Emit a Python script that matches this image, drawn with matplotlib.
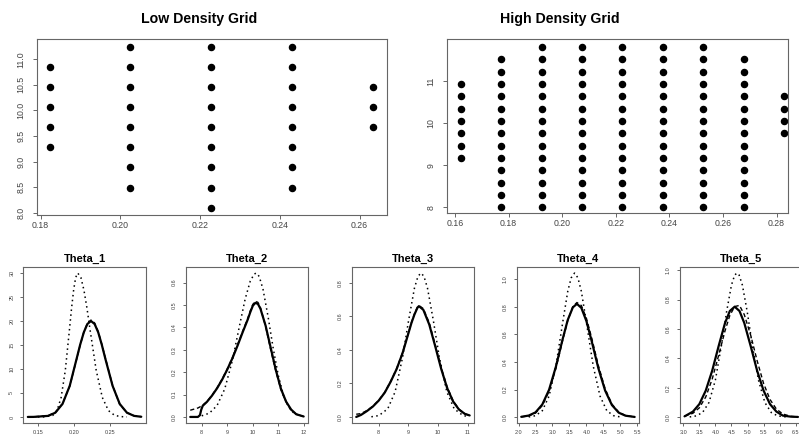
import numpy as np
import matplotlib
matplotlib.use('Agg')
import matplotlib.pyplot as plt
from matplotlib.ticker import FormatStrFormatter

plt.rcParams['font.family'] = ['Liberation Sans', 'DejaVu Sans']

# ---- grid points (top row) ----
low_cols_x = [0.1823, 0.2025, 0.2228, 0.2431, 0.2634]
low_cols_y = [
    [9.28, 9.67, 10.06, 10.45, 10.85],
    [8.49, 8.89, 9.28, 9.67, 10.06, 10.45, 10.85, 11.24],
    [8.10, 8.49, 8.89, 9.28, 9.67, 10.06, 10.45, 10.85, 11.24],
    [8.49, 8.89, 9.28, 9.67, 10.06, 10.45, 10.85, 11.24],
    [9.67, 10.06, 10.45],
]
low_xticks = [0.18, 0.20, 0.22, 0.24, 0.26]
low_yticks = [8.0, 8.5, 9.0, 9.5, 10.0, 10.5, 11.0]

high_levels = [8.000, 8.293, 8.586, 8.879, 9.172, 9.465, 9.758, 10.051,
               10.344, 10.637, 10.930, 11.223, 11.516, 11.809]
high_cols_x = [0.1621, 0.1772, 0.1923, 0.2074, 0.2225, 0.2376, 0.2527, 0.2678, 0.2829]
high_cols_y = [
    high_levels[4:11],
    high_levels[0:13],
    high_levels[0:14],
    high_levels[0:14],
    high_levels[0:14],
    high_levels[0:14],
    high_levels[0:14],
    high_levels[0:13],
    high_levels[6:10],
]
high_xticks = [0.16, 0.18, 0.20, 0.22, 0.24, 0.26, 0.28]
high_yticks = [8, 9, 10, 11]

# ---- density curves (bottom row) ----
t1_x = [0.136, 0.144, 0.164, 0.174, 0.184, 0.194, 0.2035, 0.2085, 0.2135, 0.2184,
        0.2234, 0.2284, 0.2334, 0.2383, 0.2433, 0.2533, 0.2632, 0.2732, 0.2831, 0.293]
t1_solid = [0.0, 0.01, 0.22, 0.88, 2.71, 6.49, 12.13, 15.10, 17.65, 19.38,
            20.0, 19.38, 17.65, 15.10, 12.13, 6.49, 2.71, 0.88, 0.22, 0.04]
t1_dashed = [0.0, 0.02, 0.26, 0.95, 2.8, 6.4, 12.0, 15.0, 17.7, 19.5,
             20.2, 19.6, 17.8, 15.2, 12.3, 6.6, 2.6, 0.9, 0.25, 0.05]
t1_dot_x = [0.150, 0.1591, 0.1706, 0.1764, 0.1821, 0.1879, 0.1936, 0.1965, 0.1994, 0.2022,
            0.2051, 0.2094, 0.2136, 0.2179, 0.2221, 0.2306, 0.2391, 0.2476, 0.2561, 0.2646, 0.2731]
t1_dotted = [0.0, 0.01, 0.33, 1.32, 4.06, 9.74, 18.20, 22.64, 26.48, 29.08,
             30.0, 29.08, 26.48, 22.64, 18.20, 9.74, 4.06, 1.32, 0.33, 0.07, 0.01]

t2_x = [7.55, 7.85, 7.93, 7.98, 8.04, 8.2, 8.4, 8.6, 8.8, 9.0, 9.2, 9.4, 9.6, 9.8,
        9.9, 10.0, 10.1, 10.2, 10.3, 10.5, 10.7, 10.9, 11.1, 11.3, 11.5, 11.7, 11.99]
t2_solid = [0.0, 0.0, 0.008, 0.032, 0.050, 0.067, 0.095, 0.128, 0.167, 0.212, 0.262, 0.318,
            0.378, 0.435, 0.468, 0.497, 0.510, 0.505, 0.483, 0.408, 0.309, 0.210, 0.126,
            0.069, 0.033, 0.012, 0.002]
t2_dashed = [0.030, 0.040, 0.045, 0.048, 0.053, 0.068, 0.097, 0.130, 0.170, 0.215, 0.265, 0.322,
             0.382, 0.440, 0.474, 0.503, 0.517, 0.512, 0.488, 0.405, 0.300, 0.205, 0.122,
             0.068, 0.030, 0.012, 0.002]
t2_dot_x = [8.0, 8.3, 8.6, 8.9, 9.2, 9.5, 9.7, 9.9, 10.05, 10.13,
            10.25, 10.4, 10.6, 10.8, 11.0, 11.2, 11.4, 11.6, 11.85]
t2_dotted = [0.005, 0.017, 0.051, 0.125, 0.252, 0.419, 0.527, 0.607, 0.638, 0.643,
             0.628, 0.570, 0.446, 0.305, 0.184, 0.096, 0.044, 0.018, 0.005]

t3_x = [7.24, 7.4, 7.6, 7.8, 8.0, 8.2, 8.4, 8.6, 8.8, 9.0, 9.1, 9.2, 9.3, 9.35,
        9.5, 9.7, 9.9, 10.1, 10.3, 10.5, 10.7, 10.9, 11.06]
t3_solid = [0.0, 0.012, 0.035, 0.062, 0.098, 0.145, 0.210, 0.285, 0.380, 0.500, 0.560, 0.610,
            0.650, 0.660, 0.638, 0.550, 0.421, 0.287, 0.173, 0.093, 0.044, 0.018, 0.009]
t3_dashed = [0.016, 0.020, 0.038, 0.064, 0.100, 0.147, 0.212, 0.288, 0.383, 0.502, 0.563, 0.614,
             0.654, 0.664, 0.645, 0.560, 0.430, 0.295, 0.180, 0.097, 0.046, 0.019, 0.009]
t3_dot_x = [7.75, 8.0, 8.3, 8.55, 8.8, 9.0, 9.2, 9.32, 9.42,
            9.52, 9.64, 9.84, 10.04, 10.29, 10.54, 10.84, 11.0]
t3_dotted = [0.001, 0.008, 0.048, 0.150, 0.354, 0.571, 0.767, 0.838, 0.857,
             0.838, 0.767, 0.571, 0.354, 0.150, 0.048, 0.008, 0.003]

t4_x = [2.08, 2.3, 2.5, 2.7, 2.9, 3.1, 3.3, 3.45, 3.6, 3.72,
        3.85, 4.0, 4.15, 4.35, 4.55, 4.75, 4.95, 5.15, 5.42]
t4_solid = [0.003, 0.012, 0.035, 0.092, 0.199, 0.365, 0.566, 0.704, 0.795, 0.820,
            0.791, 0.695, 0.555, 0.355, 0.193, 0.088, 0.033, 0.011, 0.002]
t4_dashed = [0.002, 0.010, 0.030, 0.085, 0.188, 0.352, 0.556, 0.700, 0.800, 0.830,
             0.808, 0.715, 0.578, 0.375, 0.206, 0.095, 0.037, 0.012, 0.002]
t4_dot_x = [2.3, 2.5, 2.7, 2.9, 3.1, 3.3, 3.45, 3.55, 3.65,
            3.75, 3.85, 4.0, 4.2, 4.4, 4.6, 4.8, 5.0]
t4_dotted = [0.002, 0.011, 0.047, 0.153, 0.370, 0.684, 0.911, 1.008, 1.043,
             1.008, 0.911, 0.684, 0.370, 0.153, 0.047, 0.011, 0.002]

t5_x = [3.04, 3.3, 3.5, 3.7, 3.9, 4.1, 4.3, 4.45, 4.6,
        4.75, 4.9, 5.1, 5.3, 5.5, 5.7, 5.9, 6.1, 6.35, 6.57]
t5_solid = [0.005, 0.037, 0.088, 0.180, 0.315, 0.482, 0.640, 0.722, 0.751,
            0.722, 0.640, 0.482, 0.315, 0.180, 0.088, 0.037, 0.010, 0.003, 0.001]
t5_dashed = [0.006, 0.026, 0.063, 0.137, 0.258, 0.419, 0.587, 0.692, 0.752,
             0.760, 0.697, 0.556, 0.383, 0.229, 0.120, 0.054, 0.021, 0.005, 0.001]
t5_dot_x = [3.2, 3.4, 3.6, 3.8, 4.0, 4.2, 4.35, 4.5, 4.6, 4.67,
            4.74, 4.84, 4.99, 5.14, 5.34, 5.54, 5.74, 5.94, 6.2]
t5_dotted = [0.001, 0.008, 0.031, 0.099, 0.252, 0.503, 0.718, 0.898, 0.966, 0.98,
             0.966, 0.898, 0.718, 0.503, 0.252, 0.099, 0.031, 0.008, 0.001]

panel_titles = ['Theta_1', 'Theta_2', 'Theta_3', 'Theta_4', 'Theta_5']
panel_xticks = [[0.15, 0.20, 0.25], [8, 9, 10, 11, 12], [8, 9, 10, 11],
                [2.0, 2.5, 3.0, 3.5, 4.0, 4.5, 5.0, 5.5],
                [3.0, 3.5, 4.0, 4.5, 5.0, 5.5, 6.0, 6.5]]
panel_yticks = [[0, 5, 10, 15, 20, 25, 30], [0.0, 0.1, 0.2, 0.3, 0.4, 0.5, 0.6],
                [0.0, 0.2, 0.4, 0.6, 0.8], [0.0, 0.2, 0.4, 0.6, 0.8, 1.0],
                [0.0, 0.2, 0.4, 0.6, 0.8, 1.0]]
panel_xfmt = ['%.2f', '%d', '%d', '%.1f', '%.1f']
panel_yfmt = ['%d', '%.1f', '%.1f', '%.1f', '%.1f']

FRAME = '#666666'
LABEL = '#444444'


def r_style(ax, size, ticklen, xpad, ypad):
    for sp in ax.spines.values():
        sp.set_color(FRAME)
        sp.set_linewidth(0.8)
    ax.tick_params(direction='out', length=ticklen, width=0.7, color=FRAME,
                   labelsize=size, labelcolor=LABEL)
    ax.tick_params(axis='x', pad=xpad)
    ax.tick_params(axis='y', pad=ypad, labelrotation=90)
    for lab in ax.get_yticklabels():
        lab.set_va('center')


W, H = 799.0, 438.0
fig = plt.figure(figsize=(7.99, 4.38), dpi=100)

# top left
ax = fig.add_axes([36.7 / W, 1 - 215 / H, 350 / W, 175.7 / H])
for cx, cy in zip(low_cols_x, low_cols_y):
    ax.plot([cx] * len(cy), cy, 'o', color='black', ms=4.4, mec='black')
ax.set_xlim(0.1790, 0.2668)
ax.set_ylim(7.955, 11.39)
ax.set_xticks(low_xticks)
ax.set_yticks(low_yticks)
ax.xaxis.set_major_formatter(FormatStrFormatter('%.2f'))
ax.yaxis.set_major_formatter(FormatStrFormatter('%.1f'))
r_style(ax, 6.3, 3, 1.2, 5)

# top right
ax = fig.add_axes([446.7 / W, 1 - 213.3 / H, 341.6 / W, 174 / H])
for cx, cy in zip(high_cols_x, high_cols_y):
    ax.plot([cx] * len(cy), cy, 'o', color='black', ms=4.4, mec='black')
ax.set_xlim(0.1569, 0.2844)
ax.set_ylim(7.857, 11.99)
ax.set_xticks(high_xticks)
ax.set_yticks(high_yticks)
ax.xaxis.set_major_formatter(FormatStrFormatter('%.2f'))
ax.yaxis.set_major_formatter(FormatStrFormatter('%d'))
r_style(ax, 6.3, 3, 1.2, 5)

fig.text(199 / W, 1 - 19 / H, 'Low Density Grid', ha='center', va='center',
         fontsize=10.2, fontweight='bold')
fig.text(560 / W, 1 - 19 / H, 'High Density Grid', ha='center', va='center',
         fontsize=10.2, fontweight='bold')

# bottom row
curves = [
    (t1_x, t1_solid, t1_dashed, t1_dot_x, t1_dotted),
    (t2_x, t2_solid, t2_dashed, t2_dot_x, t2_dotted),
    (t3_x, t3_solid, t3_dashed, t3_dot_x, t3_dotted),
    (t4_x, t4_solid, t4_dashed, t4_dot_x, t4_dotted),
    (t5_x, t5_solid, t5_dashed, t5_dot_x, t5_dotted),
]
lefts = [23.3, 185.7, 351.7, 516.7, 680.0]
for i, (xs, ys, yd, xdot, ydot) in enumerate(curves):
    ax = fig.add_axes([lefts[i] / W, 1 - 422.7 / H, 122.5 / W, 155.4 / H])
    ax.plot(xdot, ydot, color='black', lw=1.1, linestyle=(0, (1, 2.2)))
    ax.plot(xs, ys, color='black', lw=1.6, solid_capstyle='round', solid_joinstyle='round')
    ax.plot(xs, yd, color='black', lw=1.0, linestyle=(0, (3, 2)))
    ax.margins(x=0.04, y=0.04)
    ax.set_xticks(panel_xticks[i])
    ax.set_yticks(panel_yticks[i])
    ax.xaxis.set_major_formatter(FormatStrFormatter(panel_xfmt[i]))
    ax.yaxis.set_major_formatter(FormatStrFormatter(panel_yfmt[i]))
    r_style(ax, 4, 2, 3.5, 4.5)
    ax.set_title(panel_titles[i], fontsize=8, fontweight='bold', pad=4)

fig.savefig('out.png', dpi=100)
